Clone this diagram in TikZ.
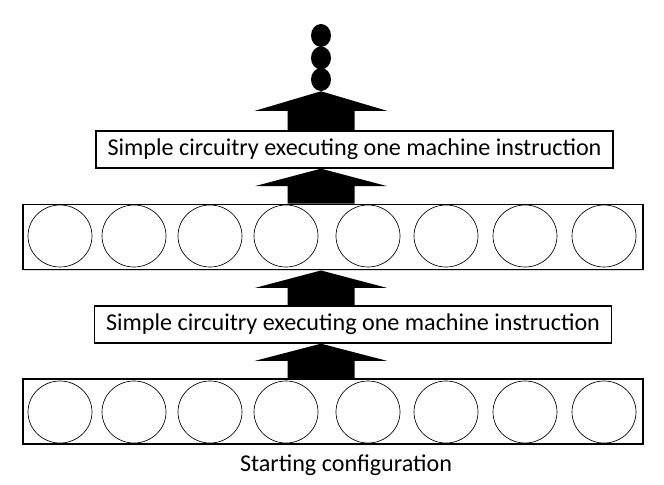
\documentclass[tikz,border=0pt]{standalone}
\usepackage{fontspec}
\setmainfont{Carlito}
\usetikzlibrary{calc,shapes.geometric,shadows}

\providecommand*{\shaftW}{}
\providecommand*{\headW}{}
\renewcommand*{\shaftW}{33.5}
\renewcommand*{\headW}{66}

% block arrow from the top of node #1 up to the bottom of node #2
\newcommand*{\blockArrow}[2]{%
  \coordinate (tail) at (axis |- #1.north);
  \coordinate (tip) at (axis |- #2.south);
  \fill ($(tail)+(-\shaftW,0)$) -- ($(tail)!.5!(tip)+(-\shaftW,0)$)
    -- ($(tail)!.5!(tip)+(-\headW,0)$) -- (tip)
    -- ($(tail)!.5!(tip)+(\headW,0)$) -- ($(tail)!.5!(tip)+(\shaftW,0)$)
    -- ($(tail)+(\shaftW,0)$) -- cycle;
}

\begin{document}
\begin{tikzpicture}[x=0.75pt,y=-0.75pt,
  register/.style={draw,line width=1.2pt,minimum width=465pt,minimum height=49pt,
    drop shadow={shadow xshift=.6pt,shadow yshift=-.8pt,opacity=.3},fill=white},
  circuit/.style={draw,line width=1pt,minimum width=387.75pt,minimum height=27.75pt,
    inner sep=0pt,font=\fontsize{18.1}{21}\selectfont,
    drop shadow={shadow xshift=.6pt,shadow yshift=-.8pt,opacity=.3},fill=white},
  cell/.style={ellipse,draw,line width=.5pt,minimum width=48pt,minimum height=46.5pt,inner sep=0pt},
  dot/.style={ellipse,fill=black,minimum width=15pt,minimum height=17.25pt,inner sep=0pt}]
  \useasboundingbox (0,0) rectangle (664,485);
  \coordinate (axis) at (321,0);

  \node [register] (start) at (333,411.5) {};
  \node [register] (state) at (333,237) {};
  \foreach \cx [count=\k] in {60,134,210,286,368,446,525,604} {
    \node [cell] (b\k) at (\cx,412) {};
    \node [cell] (a\k) at (\cx,236) {};
  }
  \node [circuit] (step1) at (353,324.5) {Simple circuitry executing one machine instruction};
  \node [circuit] (step2) at (354.5,149.5) {Simple circuitry executing one machine instruction};
  \foreach \cy [count=\k] in {35.5,58,79.5}
    \node [dot] (dot\k) at (321,\cy) {};

  \blockArrow{start}{step1}
  \blockArrow{step1}{state}
  \blockArrow{state}{step2}
  \blockArrow{step2}{dot3}

  \node [font=\fontsize{18.1}{21}\selectfont] (label) at (346,465) {Starting configuration};
\end{tikzpicture}
\end{document}
